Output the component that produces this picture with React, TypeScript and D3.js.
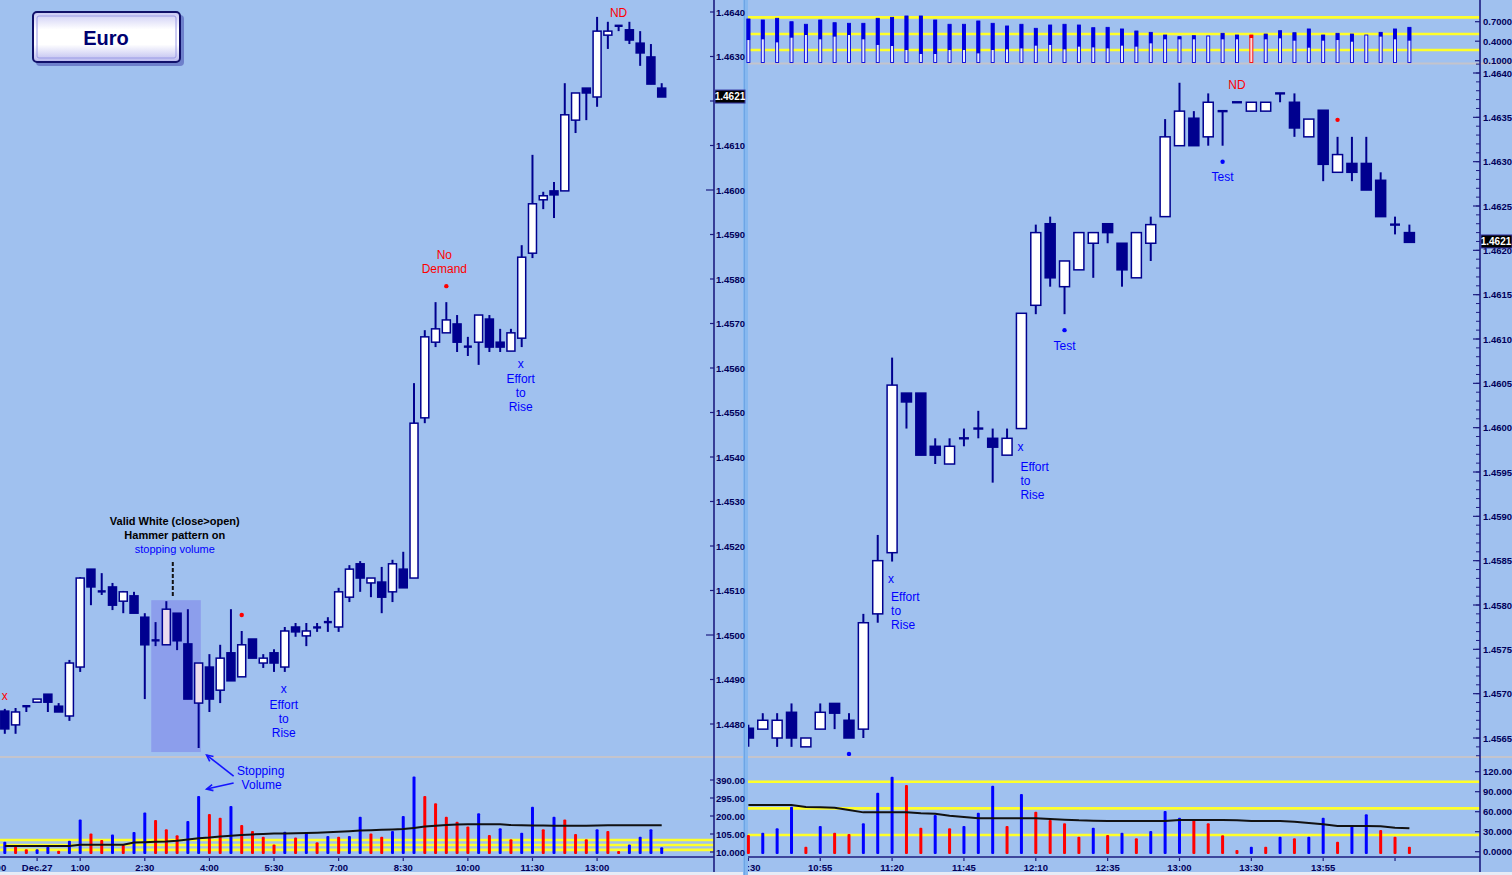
import React from 'react';
import * as d3 from 'd3';

const W = 1512;
const H = 875;
const BG = '#a0c1ef';
const NAVY = '#00008f';
const AXIS = '#1c1c80';
const LABEL = '#00005a';
const BLUE = '#0000ff';
const RED = '#ff0000';
const YELLOW = '#ffff2a';
const GRAY = '#c4c4cc';
const FONT = '"Liberation Sans", Arial, sans-serif';

// ---- left pane: 15 minute bars, Dec.26 23:15 -> Dec.27 ----
const leftOpen = [
  1.44829, 1.44798, 1.4484, 1.44849, 1.44867, 1.4484, 1.44818, 1.44928, 1.45148, 1.45099,
  1.45108, 1.45076, 1.45088, 1.4504, 1.44989, 1.44978, 1.45049, 1.4498, 1.44847, 1.44928,
  1.44876, 1.4496, 1.44906, 1.44991, 1.44937, 1.4496, 1.44928, 1.45018, 1.44998, 1.45018,
  1.45029, 1.45018, 1.45085, 1.4516, 1.45117, 1.45119, 1.45097, 1.45148, 1.45128, 1.45488,
  1.45658, 1.45679, 1.45699, 1.45649, 1.45658, 1.4571, 1.45658, 1.45638, 1.45667, 1.45858,
  1.45978, 1.45998, 1.45998, 1.46157, 1.46229, 1.46209, 1.46348, 1.46369, 1.4636, 1.4633,
  1.46299, 1.46229,
];
const leftHigh = [
  1.44834, 1.44836, 1.4484, 1.44856, 1.44867, 1.44847, 1.44944, 1.4513, 1.45148, 1.45139,
  1.45117, 1.45099, 1.45097, 1.45049, 1.45029, 1.45076, 1.45049, 1.45058, 1.44937, 1.44957,
  1.44978, 1.45058, 1.45009, 1.44991, 1.44957, 1.44968, 1.45018, 1.45027, 1.45027, 1.45027,
  1.4504, 1.45106, 1.45157, 1.45166, 1.45128, 1.45153, 1.45169, 1.45187, 1.45566, 1.45685,
  1.45748, 1.45748, 1.45719, 1.4567, 1.45719, 1.45719, 1.45688, 1.45688, 1.45876, 1.46079,
  1.45996, 1.46018, 1.4624, 1.46218, 1.46229, 1.46389, 1.46378, 1.46369, 1.46378, 1.46357,
  1.46328, 1.4624,
];
const leftLow = [
  1.44778, 1.44778, 1.44827, 1.44849, 1.44827, 1.44827, 1.44807, 1.44917, 1.45067, 1.4509,
  1.45056, 1.45049, 1.45049, 1.44856, 1.44975, 1.44978, 1.44966, 1.44856, 1.44746, 1.44827,
  1.44847, 1.44897, 1.44906, 1.44948, 1.44926, 1.44917, 1.44917, 1.44996, 1.44975, 1.45007,
  1.45007, 1.45007, 1.45074, 1.45097, 1.45085, 1.45049, 1.45074, 1.45106, 1.45128, 1.45476,
  1.45647, 1.45679, 1.45636, 1.45627, 1.45607, 1.45636, 1.45636, 1.45638, 1.45647, 1.45847,
  1.45957, 1.45937, 1.45998, 1.46128, 1.46157, 1.46187, 1.46317, 1.46357, 1.46328, 1.46279,
  1.46238, 1.46209,
];
const leftClose = [
  1.44789, 1.44827, 1.4484, 1.44856, 1.44849, 1.44827, 1.44937, 1.45128, 1.45108, 1.45097,
  1.45067, 1.45097, 1.45049, 1.44978, 1.44987, 1.45058, 1.44987, 1.44856, 1.44937, 1.44856,
  1.44948, 1.44897, 1.44978, 1.44948, 1.44948, 1.44937, 1.45009, 1.45007, 1.45009, 1.45016,
  1.45029, 1.45097, 1.45148, 1.45128, 1.45128, 1.45085, 1.4516, 1.45106, 1.45476, 1.4567,
  1.45688, 1.45708, 1.45658, 1.45647, 1.45719, 1.45647, 1.45647, 1.45679, 1.45849, 1.45969,
  1.45987, 1.45989, 1.46169, 1.46218, 1.46218, 1.46357, 1.46357, 1.46369, 1.46337, 1.46308,
  1.46238, 1.46209,
];
const leftVolume = [
  64, 38, 24, 24, 38, 17, 70, 182, 108, 73, 103, 47, 116, 218, 179, 130, 98, 174, 305, 211,
  191, 253, 152, 121, 91, 50, 117, 86, 108, 61, 94, 91, 94, 196, 108, 91, 121, 200, 408, 305,
  267, 196, 170, 144, 214, 100, 135, 77, 112, 249, 130, 196, 182, 105, 77, 130, 121, 15, 50, 91,
  130, 35,
];
// b = blue (up) volume bar, r = red (down) volume bar
const leftVolumeColor = 'brrbbrbbrrbrbbrrrbbrrbrrrrbrbrbrbbrrbbbrrrrrbrbrbbrbrrrbrrbbbbr'.split('');
const leftVolumeAvg = [
  42, 42, 42, 42, 42, 42, 42, 48, 48, 48, 48, 48, 60, 62, 64, 66, 70, 76, 82, 86,
  92, 96, 100, 103, 105, 107, 108, 109, 110, 112, 114, 117, 120, 123, 125, 127, 129, 131, 137, 144,
  149, 152, 155, 156, 157, 157, 156, 152, 151, 150, 150, 149, 149, 149, 149, 150, 151, 151, 151, 151,
  151, 151,
];
const leftVolumeLevels = [73, 47, 21];
const leftPriceTicks = d3.range(17).map((k) => 1.448 + k * 0.001);
const leftVolumeTicks = [10, 105, 200, 295, 390];
const leftVolumeTickLabels = ['10.000', '105.00', '200.00', '295.00', '390.00'];
const leftTimeTicks: [number, string][] = [
  [-1, '23:00'], [3, 'Dec.27'], [7, '1:00'], [13, '2:30'], [19, '4:00'], [25, '5:30'],
  [31, '7:00'], [37, '8:30'], [43, '10:00'], [49, '11:30'], [55, '13:00'],
];

// ---- right pane: 5 minute bars ----
const rightOpen = [
  1.45661, 1.4566, 1.4565, 1.45679, 1.4564, 1.4566, 1.45689, 1.4567, 1.4566, 1.4579,
  1.45859, 1.46039, 1.46039, 1.45979, 1.45959, 1.45988, 1.45999, 1.45988, 1.45969, 1.45999,
  1.46138, 1.4623, 1.46159, 1.46178, 1.46208, 1.4623, 1.46208, 1.46169, 1.46208, 1.46238,
  1.46318, 1.46349, 1.46328, 1.46357, 1.46367, 1.46357, 1.46357, 1.46377, 1.46367, 1.46328,
  1.46358, 1.46288, 1.46298, 1.46298, 1.46279, 1.46229, 1.4622,
];
const rightHigh = [
  1.45665, 1.45678, 1.45678, 1.45689, 1.4565, 1.45689, 1.45689, 1.45678, 1.4579, 1.45879,
  1.46079, 1.46039, 1.46039, 1.45988, 1.45988, 1.45999, 1.46019, 1.45999, 1.45999, 1.46129,
  1.46229, 1.46238, 1.46188, 1.4622, 1.4622, 1.4623, 1.46208, 1.4622, 1.46238, 1.46348,
  1.46389, 1.46357, 1.46377, 1.46357, 1.46367, 1.46367, 1.46367, 1.46377, 1.46377, 1.46348,
  1.46358, 1.46328, 1.46328, 1.46328, 1.46288, 1.46238, 1.46229,
];
const rightLow = [
  1.4564, 1.4566, 1.4564, 1.4564, 1.4564, 1.4566, 1.4566, 1.4565, 1.4565, 1.4578,
  1.45849, 1.45999, 1.45969, 1.45959, 1.45959, 1.45979, 1.45988, 1.45938, 1.45969, 1.45999,
  1.46128, 1.46159, 1.46128, 1.46178, 1.46169, 1.46208, 1.46159, 1.46169, 1.46188, 1.46238,
  1.46318, 1.46318, 1.46318, 1.46318, 1.46367, 1.46357, 1.46357, 1.46367, 1.46328, 1.46328,
  1.46278, 1.46288, 1.46278, 1.46268, 1.46238, 1.46218, 1.46209,
];
const rightClose = [
  1.4565, 1.4567, 1.4567, 1.4565, 1.4565, 1.45679, 1.45678, 1.4565, 1.4578, 1.4585,
  1.46048, 1.46029, 1.45969, 1.45969, 1.45979, 1.45988, 1.45999, 1.45978, 1.45988, 1.46129,
  1.4622, 1.46169, 1.46188, 1.4622, 1.4622, 1.4622, 1.46178, 1.4622, 1.46229, 1.46328,
  1.46357, 1.46318, 1.46367, 1.46357, 1.46367, 1.46367, 1.46367, 1.46377, 1.46338, 1.46348,
  1.46297, 1.46308, 1.46288, 1.46268, 1.46238, 1.46229, 1.46209,
];
const rightVolume = [
  25, 28.5, 35, 67.5, 7.5, 38.5, 28.5, 26.5, 42.5, 88.5, 112.5, 100, 36, 55, 35, 38.5, 58.5, 99,
  38.5, 86.5, 60, 47.5, 42.5, 22.5, 36, 25, 28.5, 20, 31, 61, 51, 48.5, 42.5, 24.5, 2.5, 7.5,
  7.5, 22.5, 20, 22.5, 51, 15, 40, 56, 32.5, 22.5, 7.5,
];
const rightVolumeColor = 'rbbbrbrrbbbrrbrbbbrbrrrrbrbrbbbrrrrbrbrbbrbbrrr'.split('');
const rightVolumeAvg = [
  70, 70, 70, 70, 67, 66.5, 66, 62.5, 59, 59, 59, 59, 57.5, 57, 54, 52, 50, 50, 50, 50, 50, 49, 48,
  47, 46.5, 46, 46, 46, 46, 46, 47.5, 47.5, 47.5, 47.5, 47, 46, 46, 46, 45, 43, 41, 38.5, 38.5,
  38.5, 38, 36, 35,
];
const rightVolumeLevels = [105, 65, 25];
const rightVolumeTicks = [0, 30, 60, 90, 120];
const rightVolumeTickLabels = ['0.0000', '30.000', '60.000', '90.000', '120.00'];
const rightTimeTicks: [number, string][] = [
  [0, '10:30'], [5, '10:55'], [10, '11:20'], [15, '11:45'], [20, '12:10'], [25, '12:35'],
  [30, '13:00'], [35, '13:30'], [40, '13:55'], [45, ''],
];
const rightPriceMajor = d3.range(16).map((k) => 1.4565 + k * 0.0005);
const rightPriceMinor = d3.range(79).map((k) => 1.4563 + k * 0.0001);

// ---- right top indicator ----
const indTop = [
  0.742, 0.726, 0.752, 0.7, 0.66, 0.726, 0.685, 0.675, 0.675, 0.752, 0.767, 0.788, 0.788, 0.726,
  0.66, 0.66, 0.711, 0.675, 0.634, 0.66, 0.598, 0.649, 0.66, 0.649, 0.608, 0.613, 0.588, 0.557,
  0.536, 0.495, 0.47, 0.485, 0.48, 0.521, 0.495, 0.495, 0.51, 0.562, 0.531, 0.588, 0.495, 0.521,
  0.51, 0.495, 0.536, 0.588, 0.613,
];
const indSolid: (number | null)[] = [
  0.418, 0.429, 0.382, 0.454, 0.495, 0.429, 0.47, 0.495, 0.429, 0.342, 0.326, 0.265, 0.203, 0.203,
  0.265, 0.265, 0.213, 0.265, 0.275, 0.29, 0.331, 0.342, 0.275, 0.316, 0.305, 0.29, 0.331, 0.316,
  0.367, 0.429, 0.429, 0.429, null, 0.429, 0.429, null, 0.429, 0.444, 0.408, 0.3, 0.408, 0.418,
  0.392, null, 0.47, 0.429, 0.408,
];
const indRedBar = 35;
const indLevels = [0.767, 0.511, 0.265];
const indTicks = [0.1, 0.4, 0.7];

const lastPrice = 1.4621;

// scales
const xL = d3.scaleLinear().domain([0, 61]).range([4.8, 661.7]);
const yL = d3.scaleLinear().domain([1.448, 1.464]).range([724, 12]);
const vL = d3.scaleLinear().domain([10, 390]).range([852, 780]);
const xR = d3.scaleLinear().domain([0, 46]).range([748.4, 1409.4]);
const yR = d3.scaleLinear().domain([1.4565, 1.464]).range([738, 73]);
const vR = d3.scaleLinear().domain([0, 120]).range([851.7, 771.7]);
const iR = d3.scaleLinear().domain([0.1, 0.7]).range([60.7, 21.7]);

const VOL_BASE = 854;
const TIME_Y = 857;

type Note = {
  i: number;
  at: 'high' | 'low';
  dot?: string;
  dotDy?: number;
  lines?: [string, number][];
  color?: string;
  anchor?: 'middle' | 'start';
  dx?: number;
};

const leftNotes: Note[] = [
  { i: 0, at: 'high', lines: [['x', -13]], color: RED },
  { i: 22, at: 'high', dot: RED, dotDy: -16 },
  { i: 26, at: 'low', lines: [['x', 17], ['Effort', 33], ['to', 47], ['Rise', 61]], color: BLUE, dx: -1 },
  { i: 41, at: 'high', dot: RED, dotDy: -16, lines: [['No', -47], ['Demand', -33]], color: RED, dx: -2 },
  { i: 48, at: 'low', lines: [['x', 17], ['Effort', 32], ['to', 46], ['Rise', 60]], color: BLUE, dx: -1 },
  { i: 57, at: 'high', lines: [['ND', -13]], color: RED },
];
const rightNotes: Note[] = [
  { i: 7, at: 'low', dot: BLUE, dotDy: 16, lines: [['No', 29], ['Supply', 43]], color: BLUE },
  { i: 10, at: 'low', lines: [['x', 17], ['Effort', 35], ['to', 49], ['Rise', 63]], color: BLUE, anchor: 'start', dx: -1 },
  { i: 19, at: 'low', lines: [['x', 18], ['Effort', 38], ['to', 52], ['Rise', 66]], color: BLUE, anchor: 'start', dx: -1 },
  { i: 22, at: 'low', dot: BLUE, dotDy: 16, lines: [['Test', 32]], color: BLUE },
  { i: 33, at: 'low', dot: BLUE, dotDy: 16, lines: [['Test', 31]], color: BLUE },
  { i: 34, at: 'high', lines: [['ND', -17]], color: RED },
  { i: 41, at: 'high', dot: RED, dotDy: -17 },
];

function Candles({ x, y, o, h, l, c, bw, tint }: any) {
  return (
    <g>
      {o.map((_: number, i: number) => {
        const cx = x(i);
        const yo = y(o[i]);
        const yc = y(c[i]);
        const top = Math.min(yo, yc);
        const bot = Math.max(yo, yc);
        const up = c[i] >= o[i];
        const flat = bot - top < 2;
        return (
          <g key={i}>
            <line x1={cx} x2={cx} y1={y(h[i])} y2={y(l[i])} stroke={NAVY} strokeWidth={2} />
            {flat ? (
              <line x1={cx - bw / 2} x2={cx + bw / 2} y1={(top + bot) / 2} y2={(top + bot) / 2} stroke={NAVY} strokeWidth={2.4} />
            ) : (
              <rect
                x={cx - bw / 2}
                y={top}
                width={bw}
                height={bot - top}
                fill={up ? (tint && tint(cx) ? '#ecdcee' : '#ffffff') : NAVY}
                stroke={NAVY}
                strokeWidth={1.5}
              />
            )}
          </g>
        );
      })}
    </g>
  );
}

function Notes({ notes, x, y, hi, lo }: any) {
  return (
    <g fontFamily={FONT} fontSize={12}>
      {notes.map((n: Note, k: number) => {
        const cx = x(n.i);
        const base = n.at === 'high' ? y(hi[n.i]) : y(lo[n.i]);
        return (
          <g key={k}>
            {n.dot && <circle cx={cx} cy={base + (n.dotDy || 0)} r={2.2} fill={n.dot} />}
            {(n.lines || []).map(([t, dy], j) => (
              <text
                key={j}
                x={cx + (n.dx || 0) - (n.anchor === 'start' && t === 'x' ? 3 : 0)}
                y={base + dy}
                fill={n.color}
                textAnchor={n.anchor || 'middle'}
                dominantBaseline="central"
              >
                {t}
              </text>
            ))}
          </g>
        );
      })}
    </g>
  );
}

function VolumeBars({ x, v, vals, colors }: any) {
  return (
    <g>
      {vals.map((d: number, i: number) => (
        <rect key={i} x={x(i) - 1.5} y={v(d)} width={3} height={Math.max(1.5, VOL_BASE - v(d))} rx={1} fill={colors[i] === 'b' ? BLUE : RED} />
      ))}
    </g>
  );
}

export default function App() {
  const lineL = d3.line<number>().x((_, i) => xL(i)).y((d) => vL(d));
  const lineR = d3.line<number>().x((_, i) => xR(i)).y((d) => vR(d));

  const hlX0 = xL(13.6);
  const hlX1 = xL(18.2);
  const hlY0 = yL(leftHigh[15]) - 1;
  const hlY1 = yL(leftLow[18]) + 4;
  const tint = (cx: number) => cx > hlX0 && cx < hlX1;
  const svX = xL(18);
  const svY = yL(leftLow[18]);
  const noteX = xL(15.6);

  const arrow = (x1: number, y1: number, x2: number, y2: number, key: string) => {
    const a = Math.atan2(y2 - y1, x2 - x1);
    const s = 7;
    const p1 = [x2 - s * Math.cos(a - 0.45), y2 - s * Math.sin(a - 0.45)];
    const p2 = [x2 - s * Math.cos(a + 0.45), y2 - s * Math.sin(a + 0.45)];
    return (
      <g key={key} stroke="#1414ff" strokeWidth={1.6} fill="none">
        <line x1={x1} y1={y1} x2={x2} y2={y2} />
        <polyline points={`${p1[0]},${p1[1]} ${x2},${y2} ${p2[0]},${p2[1]}`} />
      </g>
    );
  };

  // the last-price box on the left axis hides the tick label under it
  const leftLabelShown = (p: number) => Math.abs(yL(p) - yL(lastPrice)) > 9;

  return (
    <svg width={W} height={H} style={{ position: 'absolute', left: 0, top: 0 }} fontFamily={FONT}>
      <defs>
        <clipPath id="clipLP"><rect x={0} y={0} width={714} height={756} /></clipPath>
        <clipPath id="clipLT"><rect x={0} y={858} width={714} height={17} /></clipPath>
        <clipPath id="clipRP"><rect x={748} y={64} width={732} height={692} /></clipPath>
        <clipPath id="clipRT"><rect x={748} y={858} width={732} height={17} /></clipPath>
        <linearGradient id="euroFill" x1="0" y1="0" x2="0" y2="1">
          <stop offset="0" stopColor="#c8c8f4" />
          <stop offset="0.35" stopColor="#ffffff" />
          <stop offset="0.65" stopColor="#ffffff" />
          <stop offset="1" stopColor="#b8b8ee" />
        </linearGradient>
      </defs>
      <rect x={0} y={0} width={W} height={H} fill={BG} />
      <rect x={0} y={872} width={W} height={3} fill="#e6ecf6" />

      {/* separators */}
      <line x1={0} x2={W} y1={757} y2={757} stroke={GRAY} strokeWidth={2} />
      <line x1={748} x2={W} y1={63.5} y2={63.5} stroke={GRAY} strokeWidth={2} />
      <rect x={743} y={0} width={5} height={875} fill="#86b8f0" />
      <line x1={744.5} x2={744.5} y1={0} y2={875} stroke="#6ea4e4" strokeWidth={1} />

      {/* ===== LEFT PANE ===== */}
      <g clipPath="url(#clipLP)">
        <rect x={hlX0} y={hlY0} width={hlX1 - hlX0} height={hlY1 - hlY0} fill="#8c9eec" />
        <Candles x={xL} y={yL} o={leftOpen} h={leftHigh} l={leftLow} c={leftClose} bw={8} tint={tint} />
        <Notes notes={leftNotes} x={xL} y={yL} hi={leftHigh} lo={leftLow} />
        <line x1={noteX} x2={noteX} y1={562} y2={hlY0 - 4} stroke="#111" strokeWidth={2} strokeDasharray="4,2" />
        <g fontSize={11} fontWeight="bold" textAnchor="middle" dominantBaseline="central">
          <text x={noteX + 2} y={521} fill="#000">Valid White (close&gt;open)</text>
          <text x={noteX + 2} y={535} fill="#000">Hammer pattern on</text>
          <text x={noteX + 2} y={549} fill={BLUE} fontWeight="normal">stopping volume</text>
        </g>
        {/* Euro box */}
        <rect x={36} y={15} width={148} height={51} rx={4} fill="#3030a0" opacity={0.45} />
        <rect x={33} y={12} width={147} height={50} rx={4} fill="url(#euroFill)" stroke="#10106a" strokeWidth={2} />
        <rect x={37} y={16} width={139} height={42} rx={2} fill="none" stroke="#9a9ae6" strokeWidth={1} />
        <text x={106} y={38} fontSize={20} fontWeight="bold" fill="#000070" textAnchor="middle" dominantBaseline="central">Euro</text>
      </g>
      <g fontSize={12} fill={BLUE} textAnchor="middle" dominantBaseline="central">
        <text x={svX + 62} y={svY + 23}>Stopping</text>
        <text x={svX + 63} y={svY + 37}>Volume</text>
      </g>
      {arrow(svX + 35, svY + 28, svX + 8, svY + 7, 'a1')}
      {arrow(svX + 35, svY + 35, svX + 8, svY + 41, 'a2')}

      {/* left volume */}
      {leftVolumeLevels.map((d) => (
        <line key={d} x1={0} x2={714} y1={vL(d)} y2={vL(d)} stroke={YELLOW} strokeWidth={2.6} />
      ))}
      <VolumeBars x={xL} v={vL} vals={leftVolume} colors={leftVolumeColor} />
      <path d={lineL(leftVolumeAvg) || ''} fill="none" stroke="#111" strokeWidth={2} />

      {/* left axis */}
      <line x1={714} x2={714} y1={0} y2={872} stroke={AXIS} strokeWidth={1.6} />
      <g fontSize={9.5} fontWeight="bold" fill={LABEL} dominantBaseline="central">
        {leftPriceTicks.map((p) => {
          const long = Math.abs(p - 1.46) < 1e-6 || Math.abs(p - 1.45) < 1e-6;
          return (
            <g key={p}>
              <line x1={long ? 706 : 710} x2={714} y1={yL(p)} y2={yL(p)} stroke={AXIS} strokeWidth={1.2} />
              {leftLabelShown(p) && <text x={716} y={yL(p)}>{p.toFixed(4)}</text>}
            </g>
          );
        })}
        {leftVolumeTicks.map((v, k) => (
          <g key={v}>
            <line x1={710} x2={714} y1={vL(v)} y2={vL(v)} stroke={AXIS} strokeWidth={1.2} />
            <text x={716} y={vL(v)}>{leftVolumeTickLabels[k]}</text>
          </g>
        ))}
      </g>
      <rect x={715} y={yL(lastPrice) - 6.5} width={30} height={13} fill="#000" stroke="#3838a8" strokeWidth={1} />
      <text x={730} y={yL(lastPrice)} fontSize={10} fontWeight="bold" fill="#fff" textAnchor="middle" dominantBaseline="central">
        {lastPrice.toFixed(4)}
      </text>

      {/* left time axis */}
      <line x1={0} x2={714} y1={TIME_Y} y2={TIME_Y} stroke={AXIS} strokeWidth={1.6} />
      <g clipPath="url(#clipLT)" fontSize={9.5} fontWeight="bold" fill={LABEL} textAnchor="middle">
        {leftTimeTicks.map(([i, t]) => (
          <g key={t}>
            <line x1={xL(i)} x2={xL(i)} y1={TIME_Y} y2={TIME_Y + 4} stroke={AXIS} strokeWidth={1.2} />
            <text x={xL(i)} y={871}>{t}</text>
          </g>
        ))}
      </g>

      {/* ===== RIGHT PANE ===== */}
      {/* top indicator */}
      {indLevels.map((d) => (
        <line key={d} x1={748} x2={1480} y1={iR(d)} y2={iR(d)} stroke={YELLOW} strokeWidth={2.6} />
      ))}
      {indTop.map((d, i) => {
        const red = i === indRedBar;
        const col = red ? RED : '#0000dd';
        const s = indSolid[i];
        return (
          <g key={i}>
            <rect x={xR(i) - 1.5} y={iR(d)} width={3} height={62.5 - iR(d)} fill={red ? '#ffd8d8' : '#e4eaff'} stroke={col} strokeWidth={0.9} />
            {s !== null && <rect x={xR(i) - 1.8} y={iR(d)} width={3.6} height={iR(s) - iR(d)} fill={col} />}
            {red && <rect x={xR(i) - 1.8} y={iR(d)} width={3.6} height={3} fill={col} />}
          </g>
        );
      })}

      <g clipPath="url(#clipRP)">
        <Candles x={xR} y={yR} o={rightOpen} h={rightHigh} l={rightLow} c={rightClose} bw={10} />
        <Notes notes={rightNotes} x={xR} y={yR} hi={rightHigh} lo={rightLow} />
      </g>

      {/* right volume */}
      {rightVolumeLevels.map((d) => (
        <line key={d} x1={748} x2={1480} y1={vR(d)} y2={vR(d)} stroke={YELLOW} strokeWidth={2.6} />
      ))}
      <VolumeBars x={xR} v={vR} vals={rightVolume} colors={rightVolumeColor} />
      <path d={lineR(rightVolumeAvg) || ''} fill="none" stroke="#111" strokeWidth={2} />

      {/* right axis */}
      <line x1={1480} x2={1480} y1={0} y2={872} stroke={AXIS} strokeWidth={1.6} />
      <g fontSize={9.5} fontWeight="bold" fill={LABEL} dominantBaseline="central">
        {rightPriceMinor.map((p) => (
          <line key={p} x1={1476} x2={1480} y1={yR(p)} y2={yR(p)} stroke={AXIS} strokeWidth={1} />
        ))}
        {rightPriceMajor.map((p) => (
          <g key={p}>
            <line x1={1473} x2={1480} y1={yR(p)} y2={yR(p)} stroke={AXIS} strokeWidth={1.2} />
            <text x={1483} y={yR(p)}>{p.toFixed(4)}</text>
          </g>
        ))}
        {rightVolumeTicks.map((v, k) => (
          <g key={v}>
            <line x1={1475} x2={1480} y1={vR(v)} y2={vR(v)} stroke={AXIS} strokeWidth={1.2} />
            <text x={1483} y={vR(v)}>{rightVolumeTickLabels[k]}</text>
          </g>
        ))}
        {indTicks.map((v) => (
          <g key={v}>
            <line x1={1475} x2={1480} y1={iR(v)} y2={iR(v)} stroke={AXIS} strokeWidth={1.2} />
            <text x={1483} y={iR(v)}>{v.toFixed(4)}</text>
          </g>
        ))}
      </g>
      <rect x={1481} y={yR(lastPrice) - 6.5} width={31} height={13} fill="#000" stroke="#3838a8" strokeWidth={1} />
      <text x={1496} y={yR(lastPrice)} fontSize={10} fontWeight="bold" fill="#fff" textAnchor="middle" dominantBaseline="central">
        {lastPrice.toFixed(4)}
      </text>

      {/* right time axis */}
      <line x1={748} x2={1480} y1={TIME_Y} y2={TIME_Y} stroke={AXIS} strokeWidth={1.6} />
      <g clipPath="url(#clipRT)" fontSize={9.5} fontWeight="bold" fill={LABEL} textAnchor="middle">
        {rightTimeTicks.map(([i, t]) => (
          <g key={i}>
            <line x1={xR(i)} x2={xR(i)} y1={TIME_Y} y2={TIME_Y + 4} stroke={AXIS} strokeWidth={1.2} />
            {t && <text x={xR(i)} y={871}>{t}</text>}
          </g>
        ))}
      </g>
    </svg>
  );
}
